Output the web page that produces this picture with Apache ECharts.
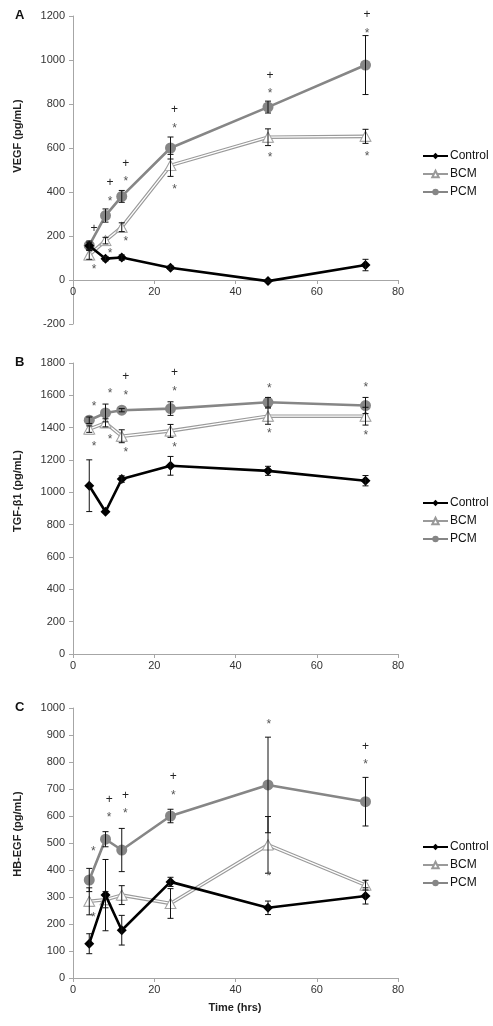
<!DOCTYPE html>
<html><head><meta charset="utf-8">
<script src="https://cdn.jsdelivr.net/npm/echarts@6/dist/echarts.min.js"></script>
<style>html,body{margin:0;padding:0;background:#fff}#c{width:493px;height:1026px}</style>
</head><body><div id="c"></div>
<script>
const hours = [4, 8, 12, 24, 48, 72];
const seriesNames = ['Control', 'BCM', 'PCM'];

const vegfControl = [156, 97, 102, 56, -5, 68];
const vegfControlErr = [15, 10, 12, 8, 5, 26];
const vegfBCM = [114, 179, 240, 521, 649, 653];
const vegfBCMErr = [20, 15, 20, 50, 38, 32];
const vegfPCM = [157, 293, 380, 600, 786, 977];
const vegfPCMErr = [20, 30, 27, 50, 27, 134];

const tgfControl = [1041, 880, 1082, 1164, 1133, 1072];
const tgfControlErr = [160, 0, 20, 58, 28, 32];
const tgfBCM = [1391, 1430, 1347, 1380, 1471, 1471];
const tgfBCMErr = [20, 25, 40, 40, 50, 55];
const tgfPCM = [1446, 1491, 1508, 1518, 1557, 1537];
const tgfPCMErr = [20, 55, 10, 42, 30, 50];

const hbControl = [127, 307, 177, 356, 260, 304];
const hbControlErr = [37, 132, 55, 17, 25, 30];
const hbBCM = [284, 290, 307, 276, 493, 344];
const hbBCMErr = [50, 30, 35, 55, 105, 18];
const hbPCM = [363, 514, 474, 600, 715, 653];
const hbPCMErr = [43, 28, 80, 25, 177, 90];

const annA = [[5.2,232,'+'],[5.2,59,'*'],[9.1,442,'+'],[9.1,369,'*'],[9.1,132,'*'],[13,529,'+'],[13,460,'*'],[13,187,'*'],[25,775,'+'],[25,702,'*'],[25,424,'*'],[48.5,930,'+'],[48.5,862,'*'],[48.5,570,'*'],[72.4,1208,'+'],[72.4,1135,'*'],[72.4,575,'*']];
const annB = [[5.2,1549,'*'],[5.2,1298,'*'],[9.1,1631,'*'],[9.1,1343,'*'],[13,1714,'+'],[13,1617,'*'],[13,1261,'*'],[25,1738,'+'],[25,1644,'*'],[25,1294,'*'],[48.3,1662,'*'],[48.3,1380,'*'],[72.1,1666,'*'],[72.1,1368,'*']];
const annC = [[5,478,'*'],[5,233,'*'],[8.9,660,'+'],[8.9,604,'*'],[12.9,676,'+'],[12.9,619,'*'],[24.7,744,'+'],[24.7,688,'*'],[48.2,948,'*'],[48.2,387,'*'],[72,855,'+'],[72,800,'*']];

const FONT = "'Liberation Sans', Arial, sans-serif";
const AX = '#a6a6a6';

const panels = [
  {letter:'A', title:'VEGF (pg/mL)', top:16, height:308, min:-200, max:1200, interval:200, titleY:136, legendTop:145,
   c:vegfControl, ce:vegfControlErr, b:vegfBCM, be:vegfBCMErr, p:vegfPCM, pe:vegfPCMErr, ann:annA},
  {letter:'B', title:'TGF-β1 (pg/mL)', top:363, height:291, min:0, max:1800, interval:200, titleY:491, legendTop:492,
   c:tgfControl, ce:tgfControlErr, b:tgfBCM, be:tgfBCMErr, p:tgfPCM, pe:tgfPCMErr, ann:annB},
  {letter:'C', title:'HB-EGF (pg/mL)', top:708, height:270, min:0, max:1000, interval:100, titleY:834, legendTop:836,
   c:hbControl, ce:hbControlErr, b:hbBCM, be:hbBCMErr, p:hbPCM, pe:hbPCMErr, ann:annC}
];

function pts(vals){ return hours.map((h,i)=>[h, vals[i]]); }
function errData(vals, errs){ return hours.map((h,i)=>[h, vals[i]-errs[i], vals[i]+errs[i], errs[i]]); }

function errRender(params, api){
  if (api.value(3) <= 0) return null;
  const x = api.value(0);
  const a = api.coord([x, api.value(1)]);
  const b = api.coord([x, api.value(2)]);
  const w = 3;
  const st = {stroke:'#111', lineWidth:1};
  return {type:'group', children:[
    {type:'line', shape:{x1:a[0], y1:a[1], x2:b[0], y2:b[1]}, style:st},
    {type:'line', shape:{x1:a[0]-w, y1:a[1], x2:a[0]+w, y2:a[1]}, style:st},
    {type:'line', shape:{x1:b[0]-w, y1:b[1], x2:b[0]+w, y2:b[1]}, style:st}
  ]};
}

const grid=[], xAxis=[], yAxis=[], series=[], legend=[], graphic=[];
panels.forEach((P, k) => {
  grid.push({left:73, width:325, top:P.top, height:P.height});
  const zeroOffset = -P.height * (0 - P.min) / (P.max - P.min);
  xAxis.push({type:'value', gridIndex:k, min:0, max:80, interval:20, offset:zeroOffset,
    axisLine:{onZero:false, lineStyle:{color:AX, width:1}},
    axisTick:{show:true, length:4, lineStyle:{color:AX}},
    axisLabel:{color:'#333', fontSize:11, fontFamily:FONT, margin:6},
    splitLine:{show:false}});
  yAxis.push({type:'value', gridIndex:k, min:P.min, max:P.max, interval:P.interval,
    axisLine:{show:true, onZero:false, lineStyle:{color:AX, width:1}},
    axisTick:{show:true, length:4, lineStyle:{color:AX}},
    axisLabel:{color:'#333', fontSize:11, fontFamily:FONT, margin:8, formatter:(v)=>String(v)},
    splitLine:{show:false}});

  series.push({type:'line', name:'Control', xAxisIndex:k, yAxisIndex:k, data:pts(P.c), z:5,
    symbol:'diamond', symbolSize:10, itemStyle:{color:'#000'}, lineStyle:{color:'#000', width:2.6}, animation:false});
  series.push({type:'line', name:'BCM', xAxisIndex:k, yAxisIndex:k, data:pts(P.b), z:3,
    symbol:'triangle', symbolSize:10, itemStyle:{color:'#fff', borderColor:'#999', borderWidth:1}, lineStyle:{color:'#9a9a9a', width:3.6}, animation:false});
  series.push({type:'line', name:'BCM-inner', xAxisIndex:k, yAxisIndex:k, data:pts(P.b), z:3.5,
    symbol:'none', lineStyle:{color:'#fff', width:1.3}, animation:false, silent:true});
  series.push({type:'scatter', name:'BCM-marks', xAxisIndex:k, yAxisIndex:k, data:pts(P.b), z:3.6,
    symbol:'triangle', symbolSize:[11,10], itemStyle:{color:'#fff', borderColor:'#999', borderWidth:1}, animation:false, silent:true});
  series.push({type:'line', name:'PCM', xAxisIndex:k, yAxisIndex:k, data:pts(P.p), z:4,
    symbol:'circle', symbolSize:11, itemStyle:{color:'#868686'}, lineStyle:{color:'#868686', width:2.6}, animation:false});
  [[P.c,P.ce],[P.b,P.be],[P.p,P.pe]].forEach(([v,e]) => {
    series.push({type:'custom', name:'err', xAxisIndex:k, yAxisIndex:k, data:errData(v,e), z:6,
      renderItem:errRender, animation:false, silent:true, encode:{x:0, y:[1,2]}});
  });
  const ann = P.ann;
  series.push({type:'custom', name:'ann', xAxisIndex:k, yAxisIndex:k, z:7, animation:false, silent:true,
    data:ann.map(a=>[a[0], a[1]]), encode:{x:0, y:1},
    renderItem:function(params, api){
      const p = api.coord([api.value(0), api.value(1)]);
      const s = ann[params.dataIndex][2];
      const star = s === '*';
      return {type:'text', x:p[0], y:p[1] + (star ? 3 : 0), style:{text:s, align:'center', verticalAlign:'middle',
        fill: star ? '#555' : '#222', fontSize:12, fontFamily:FONT}};
    }});

  legend.push({orient:'vertical', left:417, top:P.legendTop, itemWidth:25, itemHeight:8, itemGap:6,
    data:seriesNames, textStyle:{color:'#111', fontSize:12, fontFamily:FONT, padding:[0,0,0,-3]}, selectedMode:false});

  graphic.push({type:'text', left:15, top:P.top - 7, style:{text:P.letter, font:'bold 13px ' + FONT, fill:'#111'}});
  graphic.push({type:'text', x:18, y:P.titleY, rotation:Math.PI/2,
    style:{text:P.title, font:'bold 11px ' + FONT, fill:'#222', align:'center', verticalAlign:'middle'}});
});
graphic.push({type:'text', x:235, y:1008, style:{text:'Time (hrs)', font:'bold 11px ' + FONT, fill:'#222', align:'center', verticalAlign:'middle'}});

const chart = echarts.init(document.getElementById('c'), null, {renderer:'canvas'});
chart.setOption({animation:false, backgroundColor:'#fff', grid, xAxis, yAxis, series, legend, graphic});
</script></body></html>
